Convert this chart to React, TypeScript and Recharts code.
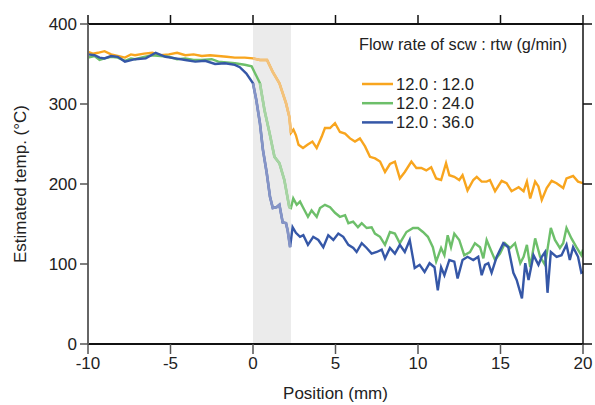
import React from 'react';
import {
  LineChart,
  Line,
  XAxis,
  YAxis,
  ReferenceArea,
} from 'recharts';

// positions (mm) and estimated temperatures (°C) for each flow ratio
const orangeX = [-10, -9.7, -9.4, -9.0, -8.6, -8.2, -7.76, -7.4, -7.15, -6.6, -6.1, -5.6, -5.1, -4.6, -4.1, -3.6, -3.1, -2.6, -2.1, -1.6, -1.1, -0.5, 0, 0.42, 0.85, 1.2, 1.6, 2.0, 2.2, 2.3, 2.45, 2.6, 2.76, 3.03, 3.3, 3.6, 3.86, 4.16, 4.36, 4.67, 4.97, 5.27, 5.58, 5.88, 6.18, 6.48, 6.79, 7.09, 7.4, 7.7, 8.0, 8.3, 8.6, 8.9, 9.2, 9.6, 9.9, 10.2, 10.5, 10.8, 11.1, 11.4, 11.7, 11.9, 12.2, 12.5, 12.7, 13.0, 13.35, 13.56, 13.86, 14.16, 14.36, 14.67, 15.07, 15.37, 15.67, 16.1, 16.4, 16.6, 16.8, 17.1, 17.3, 17.5, 17.8, 18.1, 18.4, 18.8, 19.0, 19.4, 19.7, 20];
const orangeY = [365, 363, 364, 366, 362, 360, 358, 362, 361, 363, 364, 361, 362, 364, 361, 362, 360, 361, 360, 359, 358, 358, 357, 355, 355, 340, 326, 301, 284, 264, 268, 261, 249, 245, 249, 253, 245, 259, 270, 270, 276, 265, 263, 257, 253, 257, 247, 234, 232, 228, 215, 225, 228, 207, 215, 228, 220, 220, 217, 221, 207, 205, 226, 211, 209, 205, 211, 192, 205, 209, 203, 203, 205, 191, 204, 201, 191, 196, 191, 203, 182, 203, 197, 180, 195, 204, 201, 195, 207, 210, 203, 201];

const greenX = [-10, -9.6, -9.3, -9.0, -8.6, -8.2, -7.76, -7.4, -7.15, -6.6, -6.1, -5.6, -5.1, -4.6, -4.1, -3.6, -3.1, -2.5, -2.1, -1.6, -1.1, -0.5, -0.08, 0.42, 0.7, 1.0, 1.3, 1.6, 1.9, 2.2, 2.3, 2.44, 2.65, 2.85, 3.05, 3.33, 3.55, 3.86, 4.06, 4.36, 4.67, 4.97, 5.27, 5.58, 5.78, 6.07, 6.36, 6.59, 6.89, 7.19, 7.39, 7.7, 8.0, 8.3, 8.6, 8.9, 9.3, 9.7, 10.0, 10.3, 10.6, 10.9, 11.1, 11.4, 11.6, 11.8, 12.0, 12.2, 12.5, 12.8, 13.15, 13.45, 13.76, 13.96, 14.16, 14.36, 14.67, 14.97, 15.27, 15.58, 15.88, 16.2, 16.4, 16.6, 16.8, 17.1, 17.4, 17.7, 18.05, 18.3, 18.6, 18.8, 19.0, 19.3, 19.6, 19.9, 20];
const greenY = [358, 360, 355, 357, 359, 358, 354, 357, 356, 359, 361, 360, 359, 356, 357, 355, 355, 356, 353, 352, 351, 349, 347, 326, 292, 264, 234, 226, 205, 171, 170, 182, 174, 178, 170, 159, 167, 159, 170, 174, 171, 164, 159, 161, 151, 153, 146, 151, 145, 146, 138, 134, 124, 140, 138, 126, 140, 145, 145, 140, 134, 121, 103, 120, 111, 136, 121, 138, 130, 111, 115, 126, 121, 107, 130, 120, 105, 113, 126, 120, 126, 101, 109, 124, 96, 132, 109, 99, 145, 130, 120, 126, 145, 132, 121, 111, 118];

const blueX = [-10, -9.6, -9.3, -9.0, -8.6, -8.2, -7.76, -7.15, -6.5, -5.9, -5.3, -4.7, -4.1, -3.5, -2.9, -2.3, -1.7, -1.1, -0.8, -0.4, 0, 0.2, 0.42, 0.6, 0.83, 1.03, 1.2, 1.43, 1.6, 1.8, 2.0, 2.1, 2.25, 2.4, 2.6, 2.85, 3.05, 3.33, 3.65, 3.96, 4.26, 4.56, 4.87, 5.17, 5.47, 5.78, 6.08, 6.28, 6.59, 6.89, 7.19, 7.5, 7.8, 8.0, 8.3, 8.6, 8.9, 9.2, 9.5, 9.8, 10.1, 10.4, 10.7, 11.0, 11.2, 11.4, 11.6, 11.9, 12.2, 12.4, 12.7, 13.0, 13.35, 13.65, 13.86, 14.06, 14.26, 14.46, 14.77, 15.17, 15.47, 15.78, 15.98, 16.3, 16.5, 16.7, 17.0, 17.3, 17.5, 17.7, 17.85, 18.05, 18.4, 18.7, 19.0, 19.2, 19.4, 19.7, 19.9, 20];
const blueY = [362, 361, 358, 357, 360, 359, 353, 356, 357, 364, 359, 357, 355, 353, 354, 350, 351, 349, 346, 338, 326, 305, 276, 243, 214, 184, 170, 171, 174, 152, 151, 142, 121, 146, 139, 134, 136, 124, 134, 130, 121, 136, 130, 138, 134, 124, 120, 115, 126, 120, 113, 115, 118, 107, 120, 113, 124, 115, 130, 95, 99, 90, 101, 96, 67, 96, 86, 105, 103, 82, 105, 109, 105, 109, 86, 99, 101, 89, 109, 126, 121, 89, 80, 57, 101, 80, 111, 99, 109, 115, 64, 115, 109, 111, 124, 105, 121, 109, 89, 90];

const xTicks = [-10, -5, 0, 5, 10, 15, 20];
const yTicks = [0, 100, 200, 300, 400];
const shadeRange = [0, 2.3];
const seriesNames = ['12.0 : 12.0', '12.0 : 24.0', '12.0 : 36.0'];
const colors = ['#f8a51e', '#6dbf6a', '#3557a7'];
// the same colours seen through the grey band
const fadedColors = ['#f3c27c', '#a6d4a3', '#8594c6'];

const toPoints = (xs: number[], ys: number[]) => xs.map((x, i) => ({ x, y: ys[i] }));

const inBand = (pts: { x: number; y: number }[]) =>
  pts.filter((p) => p.x >= shadeRange[0] && p.x <= shadeRange[1] + 0.001);

const orangeData = toPoints(orangeX, orangeY);
const greenData = toPoints(greenX, greenY);
const blueData = toPoints(blueX, blueY);
const allData = [orangeData, greenData, blueData];

const FONT = '"Liberation Sans", Arial, sans-serif';

// mirrored axes keep their tick marks but show no labels
const NoLabel = () => <g />;

function FlowLegend() {
  return (
    <svg width={236} height={100} style={{ position: 'absolute', left: 351, top: 22, fontFamily: FONT }}>
      <text x={0} y={20} fontSize={16.3} fill="#222">
        Flow rate of scw : rtw (g/min)
      </text>
      {seriesNames.map((name, i) => (
        <g key={name}>
          <line x1={3} x2={34} y1={54 + i * 19.2} y2={54 + i * 19.2} stroke={colors[i]} strokeWidth={2.5} />
          <text x={37} y={60 + i * 19.2} fontSize={16.5} fill="#222">
            {name}
          </text>
        </g>
      ))}
    </svg>
  );
}

export default function App() {
  return (
    <div style={{ position: 'absolute', left: 8, top: 8, width: 587, height: 397, fontFamily: FONT }}>
      <LineChart width={587} height={397} margin={{ top: 0, right: 0, bottom: 16, left: 20 }}>
        <XAxis
          dataKey="x"
          type="number"
          domain={[-10, 20]}
          ticks={xTicks}
          allowDataOverflow
          height={45}
          tickSize={10}
          tickMargin={3}
          axisLine={{ stroke: '#111', strokeWidth: 2 }}
          tickLine={{ stroke: '#555', strokeWidth: 1.5 }}
          tick={{ fill: '#222', fontSize: 17 }}
          label={{ value: 'Position (mm)', position: 'insideBottom', offset: -10, fill: '#222', fontSize: 17 }}
        />
        <XAxis
          xAxisId="top"
          orientation="top"
          dataKey="x"
          type="number"
          domain={[-10, 20]}
          ticks={xTicks}
          allowDataOverflow
          height={16}
          tickSize={9}
          tick={NoLabel}
          axisLine={{ stroke: '#111', strokeWidth: 2 }}
          tickLine={{ stroke: '#111', strokeWidth: 1.5 }}
        />
        <YAxis
          type="number"
          domain={[0, 400]}
          ticks={yTicks}
          width={60}
          tickSize={8}
          tickMargin={3}
          axisLine={{ stroke: '#666', strokeWidth: 2 }}
          tickLine={{ stroke: '#555', strokeWidth: 1.5 }}
          tick={{ fill: '#222', fontSize: 17 }}
          label={{ value: 'Estimated temp. (°C)', angle: -90, position: 'insideLeft', offset: -8, fill: '#222', fontSize: 17, style: { textAnchor: 'middle' } }}
        />
        <YAxis
          yAxisId="right"
          orientation="right"
          type="number"
          domain={[0, 400]}
          ticks={yTicks}
          allowDataOverflow
          width={12}
          tickSize={9}
          tick={NoLabel}
          axisLine={{ stroke: '#111', strokeWidth: 1.5 }}
          tickLine={{ stroke: '#111', strokeWidth: 1.5 }}
        />
        <ReferenceArea x1={shadeRange[0]} x2={shadeRange[1]} y1={0} y2={400} fill="#ebebeb" fillOpacity={1} stroke="none" ifOverflow="hidden" />
        {/* invisible series so the mirrored top / right axes get drawn */}
        <Line xAxisId="top" yAxisId="right" data={blueData} dataKey="y" stroke="transparent" strokeWidth={0} dot={false} activeDot={false} legendType="none" isAnimationActive={false} />
        {allData.map((d, i) => (
          <Line key={`line-${i}`} data={d} dataKey="y" stroke={colors[i]} strokeWidth={2.4} dot={false} isAnimationActive={false} />
        ))}
        {allData.map((d, i) => (
          <Line key={`band-${i}`} data={inBand(d)} dataKey="y" stroke={fadedColors[i]} strokeWidth={2.7} dot={false} isAnimationActive={false} />
        ))}
      </LineChart>
      <FlowLegend />
    </div>
  );
}
